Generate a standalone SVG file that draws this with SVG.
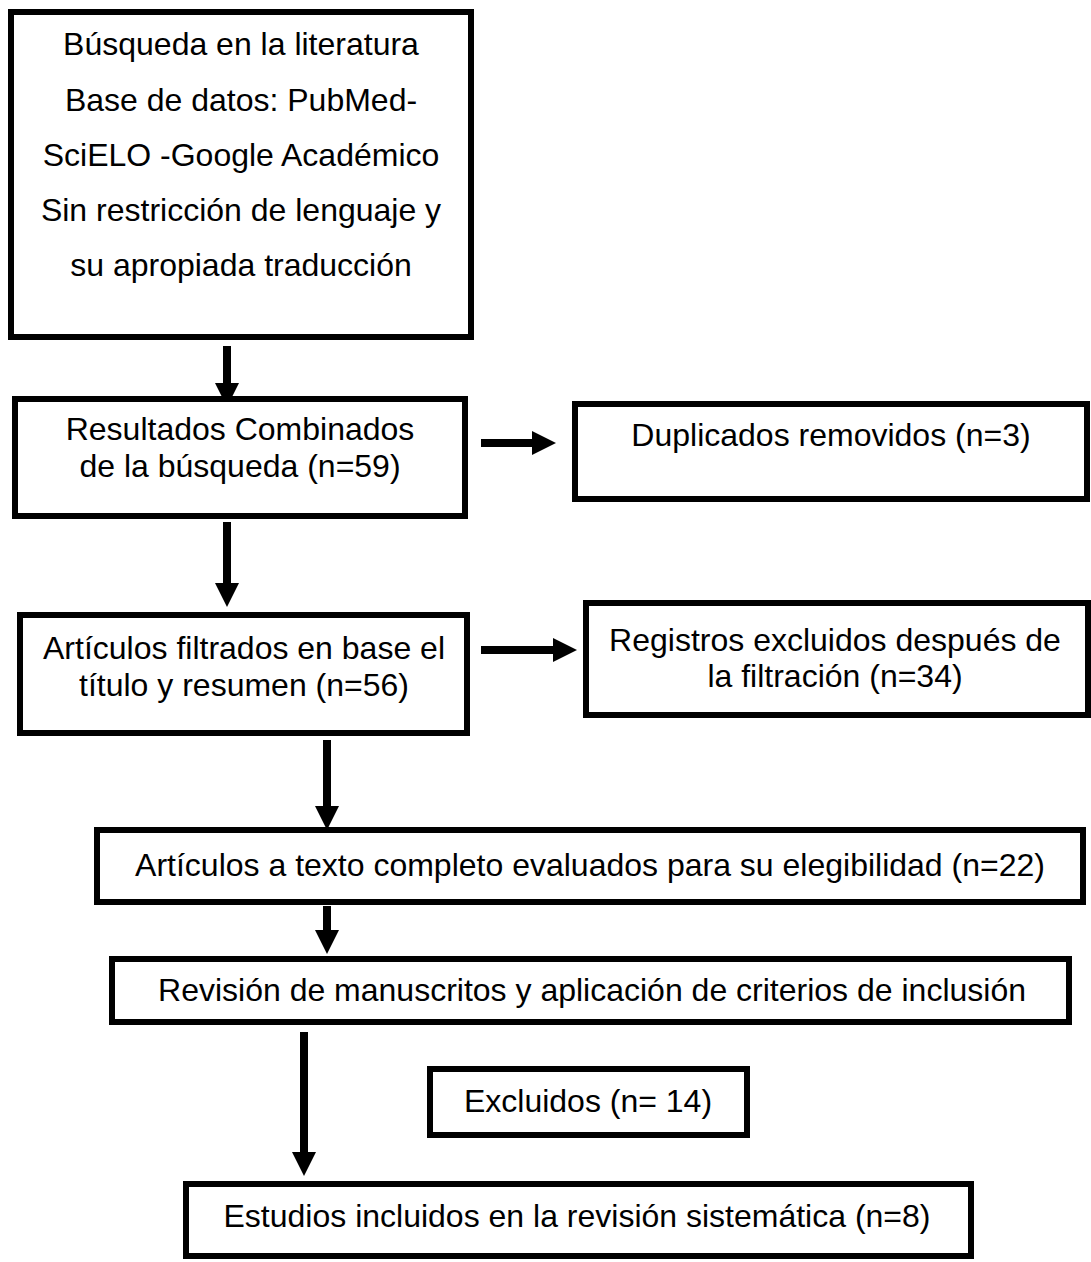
<svg xmlns="http://www.w3.org/2000/svg" width="1091" height="1262" viewBox="0 0 1091 1262">
<style>
.box{fill:#fff;stroke:#000;stroke-width:6}
.t{font-family:"Liberation Sans",Arial,sans-serif;font-size:32px;fill:#000;text-anchor:middle}
.c{stroke:#000;stroke-width:8;fill:none}
</style>
<defs>
<marker id="ah" markerUnits="userSpaceOnUse" markerWidth="24" markerHeight="24" refX="0" refY="12" orient="auto" viewBox="0 0 24 24">
<path d="M0,0 L24,12 L0,24 z" fill="#000"/>
</marker>
</defs>
<rect width="1091" height="1262" fill="#fff"/>
<g id="connectors">
<line class="c" x1="227" y1="346" x2="227" y2="383" marker-end="url(#ah)"/>
<line class="c" x1="227" y1="522" x2="227" y2="583" marker-end="url(#ah)"/>
<line class="c" x1="481" y1="443" x2="532" y2="443" marker-end="url(#ah)"/>
<line class="c" x1="481" y1="650" x2="553" y2="650" marker-end="url(#ah)"/>
<line class="c" x1="327" y1="740" x2="327" y2="806" marker-end="url(#ah)"/>
<line class="c" x1="327" y1="906" x2="327" y2="930" marker-end="url(#ah)"/>
<line class="c" x1="304" y1="1032" x2="304" y2="1152" marker-end="url(#ah)"/>
</g>
<g id="n1">
<rect class="box" x="11" y="12" width="460" height="325"/>
<text class="t" x="241" y="55">Búsqueda en la literatura</text>
<text class="t" x="241" y="110.5">Base de datos: PubMed-</text>
<text class="t" x="241" y="166">SciELO -Google Académico</text>
<text class="t" x="241" y="221">Sin restricción de lenguaje y</text>
<text class="t" x="241" y="276">su apropiada traducción</text>
</g>
<g id="n2">
<rect class="box" x="15" y="399" width="450" height="117"/>
<text class="t" x="240" y="440">Resultados Combinados</text>
<text class="t" x="240" y="477">de la búsqueda (n=59)</text>
</g>
<g id="n3">
<rect class="box" x="575" y="404" width="512" height="95"/>
<text class="t" x="831" y="446">Duplicados removidos (n=3)</text>
</g>
<g id="n4">
<rect class="box" x="20" y="615" width="447" height="118"/>
<text class="t" x="244" y="659">Artículos filtrados en base el</text>
<text class="t" x="244" y="696">título y resumen (n=56)</text>
</g>
<g id="n5">
<rect class="box" x="586" y="603" width="502" height="112"/>
<text class="t" x="835" y="651">Registros excluidos después de</text>
<text class="t" x="835" y="687">la filtración (n=34)</text>
</g>
<g id="n6">
<rect class="box" x="97" y="830" width="986" height="72"/>
<text class="t" x="590" y="876">Artículos a texto completo evaluados para su elegibilidad (n=22)</text>
</g>
<g id="n7">
<rect class="box" x="112" y="959" width="957" height="63"/>
<text class="t" x="592" y="1001">Revisión de manuscritos y aplicación de criterios de inclusión</text>
</g>
<g id="n8">
<rect class="box" x="430" y="1069" width="317" height="66"/>
<text class="t" x="588" y="1112">Excluidos (n= 14)</text>
</g>
<g id="n9">
<rect class="box" x="186" y="1184" width="785" height="72"/>
<text class="t" x="577" y="1227">Estudios incluidos en la revisión sistemática (n=8)</text>
</g>
</svg>
